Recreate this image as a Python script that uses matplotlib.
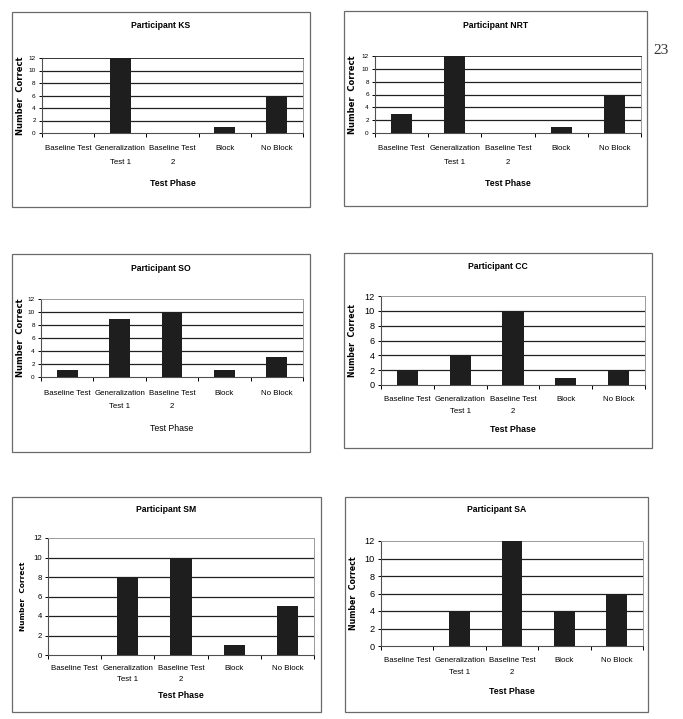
import matplotlib
matplotlib.use("Agg")
import matplotlib.pyplot as plt
from matplotlib.patches import Rectangle

# test phases on the x axis
phases = ["Baseline Test", "Generalization\nTest 1", "Baseline Test\n2", "Block", "No Block"]

# number correct per participant
ks = [0, 12, 0, 1, 6]
nrt = [3, 12, 0, 1, 6]
so = [1, 9, 10, 1, 3]
cc = [2, 4, 10, 1, 2]
sm = [0, 8, 10, 1, 5]
sa = [0, 4, 12, 4, 6]

participants = ["KS", "NRT", "SO", "CC", "SM", "SA"]
y_ticks = [0, 2, 4, 6, 8, 10, 12]

W, H = 683, 719
sans = ["Liberation Sans", "DejaVu Sans"]

fig = plt.figure(figsize=(W / 100, H / 100), dpi=100)
fig.patch.set_facecolor("white")

# pixel layout: frame box, plot area, title y, xlabel y, ylabel x, sizes, tick label pad / line spacing
panels = [
    dict(vals=ks, frame=(12, 12, 310, 207), plot=(42, 58, 303, 133), ty=25, xy=183, lx=25,
         ysz=4.6, yl=6.0, pad=8.7, ls=2.4, top="#333333"),
    dict(vals=nrt, frame=(344, 11, 647, 206), plot=(375, 56, 641, 133), ty=25, xy=183, lx=357,
         ysz=4.6, yl=6.0, pad=8.7, ls=2.4, top="#333333"),
    dict(vals=so, frame=(12, 254, 310, 452), plot=(41, 299, 303, 377), ty=268, xy=428, lx=25,
         ysz=4.6, yl=6.0, pad=9.2, ls=2.27, top="#9a9a9a"),
    dict(vals=cc, frame=(344, 253, 652, 448), plot=(381, 296, 645, 385), ty=266, xy=429, lx=357,
         ysz=6.6, yl=5.6, pad=7.7, ls=2.1, top="#9a9a9a"),
    dict(vals=sm, frame=(12, 497, 321, 712), plot=(48, 538, 314, 655), ty=510, xy=695, lx=26,
         ysz=5.6, yl=5.3, pad=7.2, ls=1.8, top="#9a9a9a"),
    dict(vals=sa, frame=(345, 497, 648, 712), plot=(381, 541, 643, 646), ty=510, xy=691, lx=358,
         ysz=6.6, yl=5.7, pad=8.2, ls=2.0, top="#9a9a9a"),
]

for name, p in zip(participants, panels):
    fx0, fy0, fx1, fy1 = p["frame"]
    fig.add_artist(Rectangle((fx0 / W, 1 - fy1 / H), (fx1 - fx0) / W, (fy1 - fy0) / H,
                             transform=fig.transFigure, fill=False,
                             edgecolor="#6a6a6a", linewidth=0.9))

    x0, y0, x1, y1 = p["plot"]
    ax = fig.add_axes([x0 / W, 1 - y1 / H, (x1 - x0) / W, (y1 - y0) / H])
    xs = range(len(phases))
    ax.bar(xs, p["vals"], width=0.4, color="#1e1e1e", zorder=3)
    ax.set_xlim(-0.5, len(phases) - 0.5)
    ax.set_ylim(0, 12)
    ax.set_yticks(y_ticks)
    ax.set_yticklabels([str(t) for t in y_ticks], fontsize=p["ysz"], family=sans)
    for t in y_ticks[1:-1]:
        ax.axhline(t, color="#202020", linewidth=0.9, zorder=1)

    ax.set_xticks(list(xs))
    ax.set_xticklabels(phases, fontsize=5.7, family=sans, linespacing=p["ls"])
    ax.set_xticks([i - 0.5 for i in range(len(phases) + 1)], minor=True)
    ax.tick_params(axis="x", which="major", length=0, pad=p["pad"])
    ax.tick_params(axis="x", which="minor", length=3, width=0.7, direction="out")
    ax.tick_params(axis="y", length=2.5, width=0.7, pad=2)

    ax.spines["top"].set_color(p["top"])
    ax.spines["right"].set_color("#9a9a9a")
    for s in ["top", "right"]:
        ax.spines[s].set_linestyle((0, (2, 1)))
        ax.spines[s].set_linewidth(0.7)
    ax.spines["left"].set_color("#505050")
    ax.spines["bottom"].set_color("#505050")
    ax.spines["left"].set_linewidth(0.8)
    ax.spines["bottom"].set_linewidth(0.8)

    ax.set_ylabel("Number  Correct", fontsize=p["yl"], fontweight="bold")
    ax.yaxis.set_label_coords((p["lx"] - x0) / (x1 - x0), 0.5)

    cx = (fx0 + fx1) / 2 / W
    fig.text(cx, 1 - p["ty"] / H, "Participant " + name, ha="center", va="center",
             fontsize=6.2, fontweight="bold", family=sans)
    weight = "normal" if name == "SO" else "bold"
    fig.text((x0 + x1) / 2 / W, 1 - p["xy"] / H, "Test Phase", ha="center", va="center",
             fontsize=6.3, fontweight=weight, family=sans)

# page number
fig.text(653 / W, 1 - 51 / H, "23", ha="left", va="center", fontsize=11,
         family=["Liberation Serif", "DejaVu Serif"], color="#333333")

fig.savefig("out.png", dpi=100, facecolor="white")
